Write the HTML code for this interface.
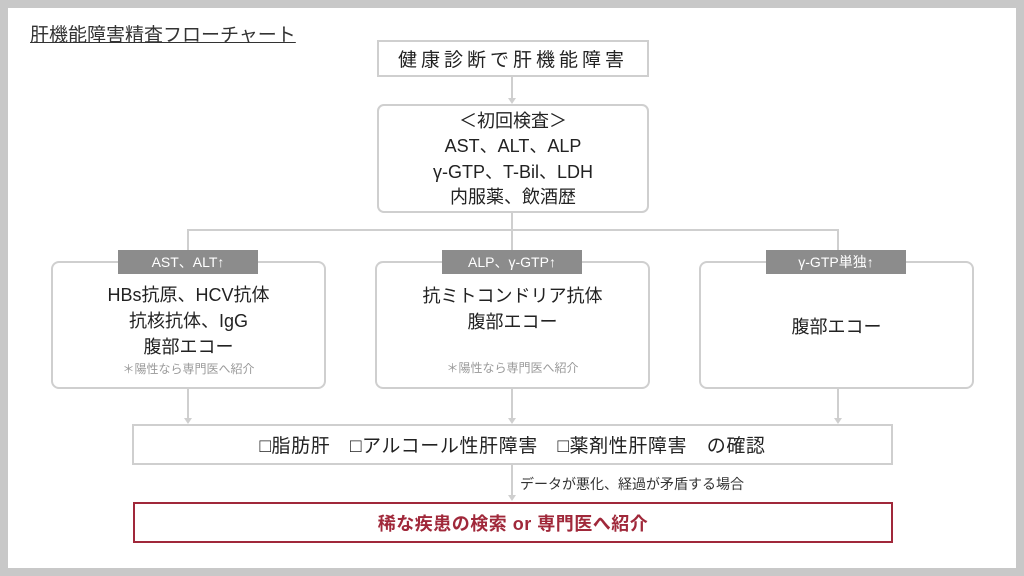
<!DOCTYPE html>
<html><head><meta charset="utf-8"><style>
*{margin:0;padding:0;box-sizing:border-box}
body{width:1024px;height:576px;background:#c8c8c8;position:relative;overflow:hidden;font-family:"Liberation Sans","Noto Sans CJK JP",sans-serif;color:#222}
.w{position:absolute;left:8px;top:8px;width:1008px;height:560px;background:#fff}
.a{position:absolute}
.b{position:absolute;border:2px solid #cfcfcf;background:#fff;display:flex;flex-direction:column;align-items:center;justify-content:center;text-align:center}
.v{position:absolute;width:2px;background:#cfcfcf}
.h{position:absolute;height:2px;background:#cfcfcf}
.tag{position:absolute;background:#8c8c8c;color:#fff;font-size:14px;height:24px;line-height:24px;text-align:center;width:140px}
.ar{position:absolute;width:0;height:0;border-left:4px solid transparent;border-right:4px solid transparent;border-top:6px solid #cfcfcf}
</style></head><body>
<div class="w"></div>
<div class="a" style="left:30px;top:20px;font-size:19px;text-decoration:underline;color:#333">肝機能障害精査フローチャート</div>
<div class="b" style="left:377px;top:40px;width:272px;height:37px;font-size:19px;letter-spacing:4px">健康診断で肝機能障害</div>
<div class="v" style="left:511px;top:77px;height:22px"></div><div class="ar" style="left:508px;top:98px"></div>
<div class="b" style="left:377px;top:104px;width:272px;height:109px;border-radius:7px;font-size:18px;line-height:25.5px;padding-top:2px">
<div>＜初回検査＞</div><div>AST、ALT、ALP</div><div>γ-GTP、T-Bil、LDH</div><div>内服薬、飲酒歴</div></div>
<div class="v" style="left:511px;top:213px;height:18px"></div>
<div class="h" style="left:187px;top:229px;width:652px"></div>
<div class="v" style="left:187px;top:229px;height:21px"></div>
<div class="v" style="left:511px;top:229px;height:21px"></div>
<div class="v" style="left:837px;top:229px;height:21px"></div>
<div class="b" style="left:51px;top:261px;width:275px;height:128px;border-radius:8px;font-size:18px;line-height:26px;padding-top:10px">
<div>HBs抗原、HCV抗体</div><div>抗核抗体、IgG</div><div>腹部エコー</div><div style="font-size:12px;color:#999;line-height:18px">＊陽性なら専門医へ紹介</div></div>
<div class="b" style="left:375px;top:261px;width:275px;height:128px;border-radius:8px;font-size:18px;line-height:26px;justify-content:flex-start;padding-top:20px">
<div>抗ミトコンドリア抗体</div><div>腹部エコー</div><div style="font-size:12px;color:#999;line-height:18px;margin-top:24px">＊陽性なら専門医へ紹介</div></div>
<div class="b" style="left:699px;top:261px;width:275px;height:128px;border-radius:8px;font-size:18px;padding-top:2px">腹部エコー</div>
<div class="tag" style="left:118px;top:250px">AST、ALT↑</div>
<div class="tag" style="left:442px;top:250px">ALP、γ-GTP↑</div>
<div class="tag" style="left:766px;top:250px">γ-GTP単独↑</div>
<div class="v" style="left:187px;top:389px;height:30px"></div><div class="ar" style="left:184px;top:418px"></div>
<div class="v" style="left:511px;top:389px;height:30px"></div><div class="ar" style="left:508px;top:418px"></div>
<div class="v" style="left:837px;top:389px;height:30px"></div><div class="ar" style="left:834px;top:418px"></div>
<div class="b" style="left:132px;top:424px;width:761px;height:41px;font-size:19px;white-space:pre;letter-spacing:0.6px">□脂肪肝　□アルコール性肝障害　□薬剤性肝障害　の確認</div>
<div class="v" style="left:511px;top:465px;height:30px"></div><div class="ar" style="left:508px;top:495px"></div>
<div class="a" style="left:520px;top:474px;font-size:14px;color:#333">データが悪化、経過が矛盾する場合</div>
<div class="b" style="left:133px;top:502px;width:760px;height:41px;border-color:#a0283a;color:#a0283a;font-size:18px;font-weight:bold;letter-spacing:0.5px">稀な疾患の検索 or 専門医へ紹介</div>
</body></html>
